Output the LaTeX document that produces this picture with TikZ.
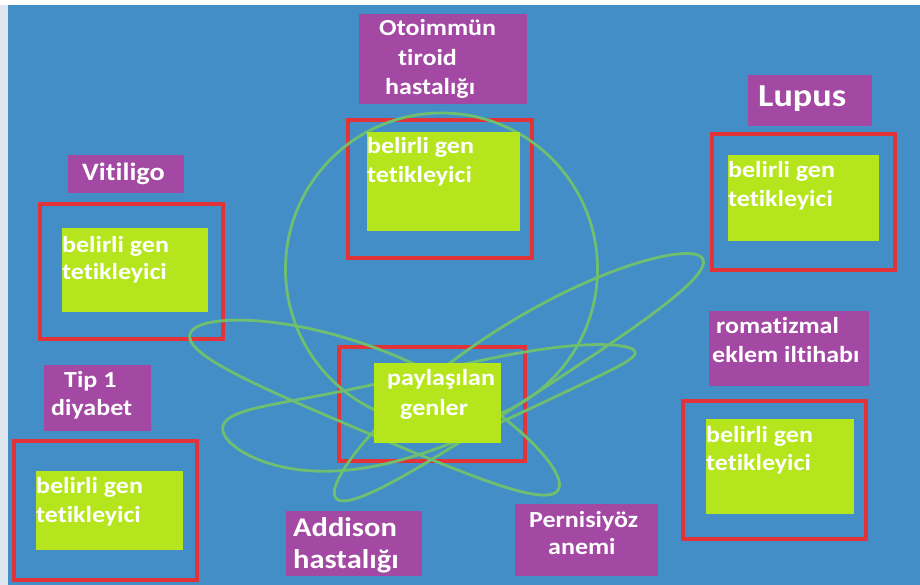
\documentclass[tikz,border=0pt]{standalone}
\usepackage{fontspec}
\setmainfont{Carlito}[FakeStretch=1.13, Ligatures=NoCommon]
\usetikzlibrary{fit}
\definecolor{bgc}{RGB}{67,142,199}
\definecolor{stripc}{RGB}{222,230,240}
\definecolor{purp}{RGB}{163,73,164}
\definecolor{limec}{RGB}{181,230,29}
\definecolor{redc}{RGB}{226,52,56}
\definecolor{elc}{RGB}{110,192,112}
\tikzset{
  pbox/.style={fill=purp, inner sep=0pt, outer sep=0pt},
  gbox/.style={fill=limec, inner sep=0pt, outer sep=0pt},
  rbox/.style={draw=redc, line width=3.3pt, inner sep=0pt, outer sep=0pt},
  ell/.style={draw=elc, line width=2.8pt, line join=round},
  wt/.style={text=white, inner sep=0pt, anchor=base west, font=\fontsize{23}{26}\selectfont\bfseries},
  wtv/.style={wt, font=\fontsize{25}{28}\selectfont\bfseries},
  wtb/.style={wt, font=\fontsize{27}{30}\selectfont\bfseries},
  wtl/.style={wt, font=\fontsize{32}{36}\selectfont\bfseries}
}
% loop: a, b, bulge m, skew p, taper k
\newcommand\greenloop[5]{%
  \draw[ell] plot[domain=0:360, samples=181, smooth]
    ({#1*cos(\x)}, {-((#3)*sin(\x)*sin(\x) + (#4)*cos(\x)*sin(\x)*sin(\x) + (#2)*sin(\x)*(1-(#5)*cos(\x)))}) -- cycle;}
\begin{document}
\begin{tikzpicture}[x=1pt,y=-1pt]
\useasboundingbox (0,0) rectangle (920,585);
\fill[white] (0,0) rectangle (920,585);
\fill[stripc] (0,5) rectangle (8,585);
\fill[bgc] (8,5) rectangle (920,585);
% red frames
\node[rbox, fit={(348,120)(532,258)}] (r1) {};
\node[rbox, fit={(712,134)(895,270)}] (r2) {};
\node[rbox, fit={(40,204)(223,339)}] (r3) {};
\node[rbox, fit={(14,441)(197,580)}] (r4) {};
\node[rbox, fit={(683,401)(866,539)}] (r5) {};
\node[rbox, fit={(339,347)(525,461)}] (r6) {};
% green loops
\draw[ell] (441.5,269) circle [radius=156pt];
\begin{scope}[shift={(519,378)}, rotate=33.1]
  \greenloop{219}{37}{15}{0}{0}
\end{scope}
\begin{scope}[shift={(374.5,411)}, rotate=-22.9]
  \greenloop{200}{41}{18}{0}{0}
\end{scope}
\begin{scope}[shift={(429,391.5)}, rotate=10.8]
  \greenloop{209.8}{38}{-19}{21}{0.35}
\end{scope}
% lime boxes
\node[gbox, fit={(367,132)(520,231)}] (g1) {};
\node[gbox, fit={(728,155)(879,241)}] (g2) {};
\node[gbox, fit={(62,228)(208,312)}] (g3) {};
\node[gbox, fit={(36,471)(183,550)}] (g4) {};
\node[gbox, fit={(706,419)(854,514)}] (g5) {};
\node[gbox, fit={(374,363)(501,443)}] (g6) {};
% purple boxes
\node[pbox, fit={(359,14)(527,104)}] (p1) {};
\node[pbox, fit={(748,75)(872,126)}] (p2) {};
\node[pbox, fit={(68,155)(184,193)}] (p3) {};
\node[pbox, fit={(44,365)(151,431)}] (p4) {};
\node[pbox, fit={(709,311)(869,386)}] (p5) {};
\node[pbox, fit={(286,511)(422,576)}] (p6) {};
\node[pbox, fit={(515,504)(658,576)}] (p7) {};
% lime box texts
\node[wt] (g1a) at (367,154) {belirli gen};
\node[wt] (g1b) at (367,183) {tetikleyici};
\node[wt] (g2a) at (728,178) {belirli gen};
\node[wt] (g2b) at (728,207) {tetikleyici};
\node[wt] (g3a) at (62,252) {belirli gen};
\node[wt] (g3b) at (62,279) {tetikleyici};
\node[wt] (g4a) at (36,493) {belirli gen};
\node[wt] (g4b) at (36,522) {tetikleyici};
\node[wt] (g5a) at (706,442) {belirli gen};
\node[wt] (g5b) at (706,470) {tetikleyici};
\node[wt] (g6a) at (387,385) {paylaşılan};
\node[wt] (g6b) at (400,415) {genler};
% purple box texts
\node[wt] (p1a) at (379,36) {Otoimmün};
\node[wt] (p1b) at (398,66) {tiroid};
\node[wt] (p1c) at (385,95) {hastalığı};
\node[wtl] (p2a) at (758,107) {Lupus};
\node[wtv] (p3a) at (82,181) {Vitiligo};
\node[wt] (p4a) at (64,387) {Tip 1};
\node[wt] (p4b) at (51,415) {diyabet};
\node[wt] (p5a) at (716,333) {romatizmal};
\node[wt] (p5b) at (712,362) {eklem iltihabı};
\node[wtb] (p6a) at (293,536) {Addison};
\node[wtb] (p6b) at (293,568) {hastalığı};
\node[wt] (p7a) at (529,527) {Pernisiyöz};
\node[wt] (p7b) at (548,554) {anemi};
\end{tikzpicture}
\end{document}
